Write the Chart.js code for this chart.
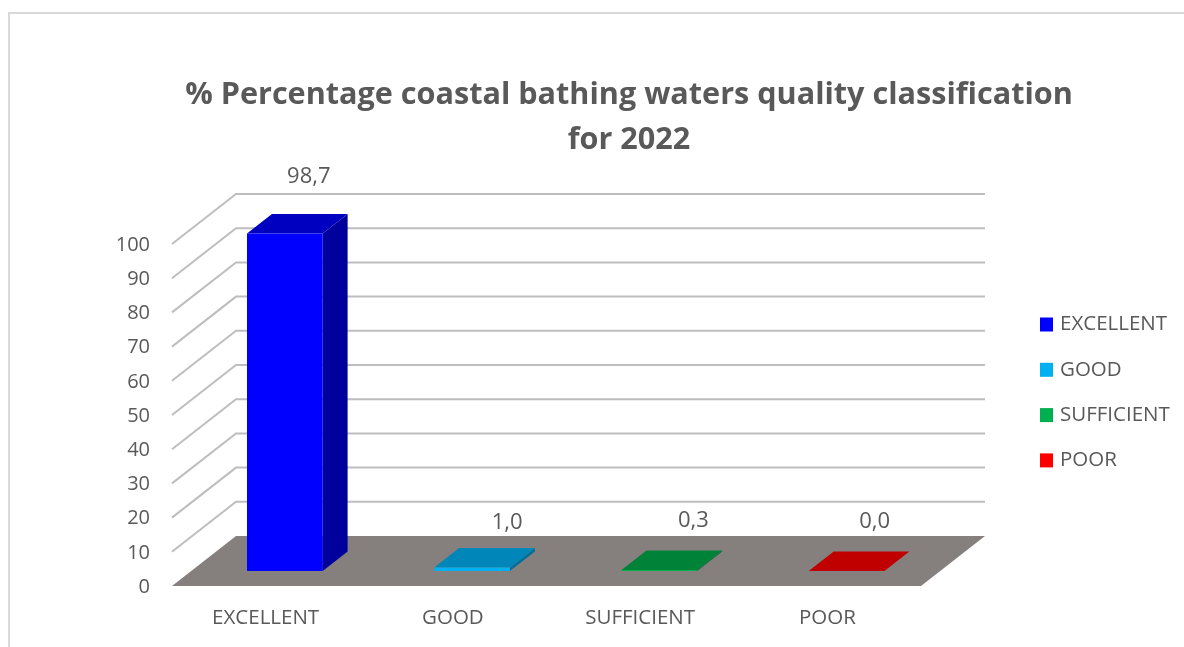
<!DOCTYPE html>
<html>
<head>
<meta charset="utf-8">
<title>Coastal bathing waters</title>
<script src="https://cdn.jsdelivr.net/npm/chart.js@4/dist/chart.umd.min.js"></script>
<style>
    html, body { margin: 0; width: 1184px; height: 647px; overflow: hidden; background: #fff; }
    #marco { position: absolute; left: 8px; top: 12px; width: 1238px; height: 650px; border: 2px solid #d9d9d9; }
    #grafico { display: block; }
</style>
</head>
<body>
<div id="marco"><canvas id="grafico" width="1238" height="640"></canvas></div>
<script>
const categorias = ["EXCELLENT", "GOOD", "SUFFICIENT", "POOR"];
const valores = [98.7, 1.0, 0.3, 0.0];
const etiquetasValor = ["98,7", "1,0", "0,3", "0,0"];
const colorFrente = ["#0000ff", "#00b0f0", "#00b050", "#ff0000"];
const colorTapa = ["#0000c0", "#0086b8", "#008238", "#c00000"];
const colorLado = ["#00009c", "#006f99", "#006b2e", "#9c0000"];
const tituloLineas = ["% Percentage coastal bathing waters quality classification", "for 2022"];

const fuente = "'Open Sans', sans-serif";
const colorTexto = "#595959";
const fondoX = 64, fondoY = 50;      // profundidad del suelo
const inicioBarra = 0.3, largoBarra = 0.39;

function poligono(ctx, puntos, color) {
    ctx.beginPath();
    puntos.forEach((p, i) => i ? ctx.lineTo(p[0], p[1]) : ctx.moveTo(p[0], p[1]));
    ctx.closePath();
    ctx.fillStyle = color;
    ctx.fill();
}

// paredes y suelo del grafico 3D
const plugin3d = {
    id: "plugin3d",
    beforeDatasetsDraw(chart) {
        const { ctx, chartArea, scales } = chart;
        const y = scales.y;
        ctx.save();
        ctx.strokeStyle = "#bfbdbd";
        ctx.lineWidth = 2;
        y.ticks.forEach(t => {
            if (t.value === 0) return;
            const py = y.getPixelForValue(t.value);
            ctx.beginPath();
            ctx.moveTo(chartArea.left, py);
            ctx.lineTo(chartArea.left + fondoX, py - fondoY);
            ctx.lineTo(chartArea.right + fondoX, py - fondoY);
            ctx.stroke();
        });
        const y0 = y.getPixelForValue(0);
        poligono(ctx, [
            [chartArea.left, y0],
            [chartArea.left + fondoX, y0 - fondoY],
            [chartArea.right + fondoX, y0 - fondoY],
            [chartArea.right, y0]
        ], "#857f7e");
        ctx.restore();
    },
    // se cancela la barra plana y se dibuja con volumen
    beforeDatasetDraw(chart) {
        const { ctx } = chart;
        const barras = chart.getDatasetMeta(0).data;
        const ox = fondoX * inicioBarra, oy = fondoY * inicioBarra;
        const dx = fondoX * largoBarra, dy = fondoY * largoBarra;
        ctx.save();
        barras.forEach((b, i) => {
            const x1 = b.x - b.width / 2 + ox, x2 = b.x + b.width / 2 + ox;
            const arriba = b.y - oy, abajo = b.base - oy;
            poligono(ctx, [[x2, arriba], [x2 + dx, arriba - dy], [x2 + dx, abajo - dy], [x2, abajo]], colorLado[i]);
            poligono(ctx, [[x1, arriba], [x1 + dx, arriba - dy], [x2 + dx, arriba - dy], [x2, arriba]], colorTapa[i]);
            poligono(ctx, [[x1, arriba], [x2, arriba], [x2, abajo], [x1, abajo]], colorFrente[i]);
        });
        ctx.restore();
        return false;
    },
    afterDatasetsDraw(chart) {
        const { ctx } = chart;
        const barras = chart.getDatasetMeta(0).data;
        const ajuste = [[24, -57], [35, -45], [34, -49], [28, -49]];
        ctx.save();
        ctx.font = "22px " + fuente;
        ctx.fillStyle = colorTexto;
        ctx.textAlign = "center";
        ctx.textBaseline = "middle";
        barras.forEach((b, i) => {
            const ox = fondoX * inicioBarra, oy = fondoY * inicioBarra;
            ctx.fillText(etiquetasValor[i], b.x + ox + ajuste[i][0], b.y - oy + ajuste[i][1]);
        });
        // leyenda a la derecha
        ctx.font = "20.5px " + fuente;
        ctx.textAlign = "left";
        categorias.forEach((c, i) => {
            const py = 310.5 + i * 45.3;
            ctx.fillStyle = colorFrente[i];
            ctx.fillRect(1030, py - 7, 13, 14);
            ctx.fillStyle = colorTexto;
            ctx.fillText(c, 1050, py);
        });
        ctx.restore();
    }
};

new Chart(document.getElementById("grafico"), {
    type: "bar",
    data: {
        labels: categorias,
        datasets: [{ data: valores, backgroundColor: colorFrente, barPercentage: 0.404, categoryPercentage: 1 }]
    },
    options: {
        responsive: false,
        animation: false,
        plugins: {
            legend: { display: false },
            tooltip: { enabled: false },
            title: {
                display: true,
                text: tituloLineas,
                color: colorTexto,
                font: { family: "'Open Sans', sans-serif", size: 30.6, weight: "bold", lineHeight: 45 / 30.6 },
                padding: { top: 59, bottom: 81 }
            }
        },
        scales: {
            x: {
                grid: { display: false },
                border: { display: false },
                ticks: { color: colorTexto, font: { family: "'Open Sans', sans-serif", size: 20.5 }, padding: 12, maxRotation: 0 },
                afterFit(s) { s.height = 68; }
            },
            y: {
                min: 0,
                max: 100,
                grid: { display: false },
                border: { display: false },
                ticks: { stepSize: 10, color: colorTexto, font: { family: "'Open Sans', sans-serif", size: 20 }, padding: 14, labelOffset: 1 },
                afterFit(s) { s.width = 162; }
            },
            // eje vacio: deja el hueco de la derecha para el fondo y la leyenda
            hueco: {
                position: "right",
                display: true,
                grid: { display: false },
                border: { display: false },
                ticks: { display: false },
                afterFit(s) { s.width = 327; }
            }
        }
    },
    plugins: [plugin3d]
});
</script>
</body>
</html>
